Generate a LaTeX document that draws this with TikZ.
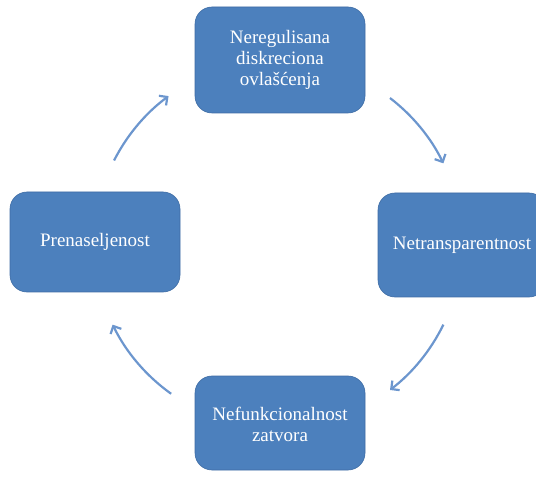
\documentclass[tikz,border=0pt]{standalone}
\usepackage{fontspec}
\setmainfont{Liberation Serif}
\usetikzlibrary{arrows.meta,calc}
\definecolor{boxblue}{RGB}{76,128,189}
\definecolor{boxedge}{RGB}{62,108,164}
\definecolor{arrblue}{RGB}{108,150,206}
\tikzset{
  cyclebox/.style={draw=boxedge, line width=0.6pt, fill=boxblue, rounded corners=17pt,
    text=white, align=center, font=\fontsize{19}{21}\selectfont, inner sep=0pt},
  cyclearrow/.style={draw=arrblue, line width=2.2pt, -{Straight Barb[length=6pt,width=12pt]}}
}
\begin{document}
\begin{tikzpicture}[x=1pt,y=-1pt]
\useasboundingbox (0,0) rectangle (536,481);
\begin{scope}
\clip (0,0) rectangle (536,481);
\node[cyclebox, minimum width=170pt, minimum height=106pt] (top) at (280,60) {Neregulisana\\diskreciona\\ovlašćenja};
\node[cyclebox, minimum width=168pt, minimum height=104pt] (right) at (462,245) {Netransparentnost};
\node[cyclebox, minimum width=170pt, minimum height=100pt] (left) at (95,242) {Prenaseljenost};
\node[cyclebox, minimum width=170pt, minimum height=94pt] (bottom) at (280,423) {\\[-4pt]Nefunkcionalnost\\zatvora};
\end{scope}
\coordinate (ctr) at (278,244);
\coordinate (s1) at ($(ctr)+(52.5:184pt)$);
\coordinate (s2) at ($(ctr)+(-26:184pt)$);
\coordinate (s3) at ($(ctr)+(234.5:184pt)$);
\coordinate (s4) at ($(ctr)+(153:184pt)$);
\draw[cyclearrow] (s1) arc[start angle=52.5, end angle=26, radius=184pt];
\draw[cyclearrow] (s2) arc[start angle=-26, end angle=-52.5, radius=184pt];
\draw[cyclearrow] (s3) arc[start angle=234.5, end angle=206, radius=184pt];
\draw[cyclearrow] (s4) arc[start angle=153, end angle=126.5, radius=184pt];
\end{tikzpicture}
\end{document}
